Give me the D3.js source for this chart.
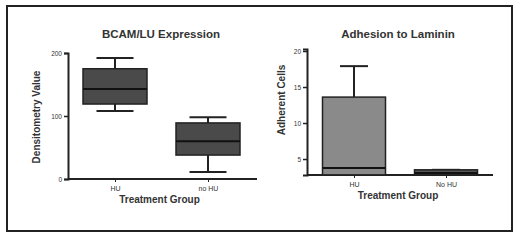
<!DOCTYPE html>
<html lang="en">
<head>
<meta charset="UTF-8">
<title>box plots</title>
<script src="https://d3js.org/d3.v7.min.js"></script>
<style>
    * { margin: 0; padding: 0; }
    body { background: #fff; }
    text { font-family: "Liberation Sans", Arial, sans-serif; fill: #333; }
</style>
</head>
<body>
<script>
    // left chart: BCAM/LU expression
    var groupsA = ["HU", "no HU"];
    var minA = [108, 11];
    var q1A = [119, 38];
    var medA = [143, 60];
    var q3A = [175, 89];
    var maxA = [192, 98];
    var ticksA = [0, 100, 200];

    // right chart: adhesion to laminin
    var groupsB = ["HU", "No HU"];
    var minB = [2.8, 2.8];
    var q1B = [2.8, 2.8];
    var medB = [3.75, 3.05];
    var q3B = [13.6, 3.5];
    var maxB = [17.9, 3.5];
    var ticksB = [5, 10, 15, 20];

    var svg = d3.select("body").append("svg")
        .attr("width", 520).attr("height", 241)

    // outer frame
    svg.append("rect")
        .attr("x", 7).attr("y", 6)
        .attr("width", 505).attr("height", 225)
        .attr("fill", "none").attr("stroke", "#222").attr("stroke-width", 2)

    function boxChart(opt) {
        var g = svg.append("g")
        var x = d3.scalePoint().domain(opt.groups).range(opt.xr).padding(0)
        var y = d3.scaleLinear().domain(opt.dom).range(opt.yr)

        var yAxis = d3.axisLeft(y).tickValues(opt.ticks).tickSize(4).tickPadding(2)
        var ya = g.append("g").attr("transform", "translate(" + opt.x0 + ",0)").call(yAxis)
        ya.select(".domain").attr("stroke", "#222").attr("stroke-width", 2)
        ya.selectAll(".tick line").attr("stroke", "#222").attr("stroke-width", 1.5)
        ya.selectAll(".tick text").attr("font-size", 6.5).attr("fill", "#666")

        var xAxis = d3.axisBottom(x).tickSize(3).tickPadding(4)
        var xa = g.append("g").attr("transform", "translate(0," + opt.yr[0] + ")").call(xAxis)
        xa.select(".domain").attr("d", "M" + opt.x0 + ",0H" + opt.xEnd)
            .attr("stroke", "#222").attr("stroke-width", 2)
        xa.selectAll(".tick line").attr("stroke", "#222")
        xa.selectAll(".tick text").attr("font-size", 7).attr("fill", "#555")

        var bw = opt.bw, cw = opt.cw
        opt.groups.forEach(function(gr, i) {
            var cx = x(gr)
            // whiskers
            g.append("line").attr("x1", cx).attr("x2", cx)
                .attr("y1", y(opt.max[i])).attr("y2", y(opt.q3[i]))
                .attr("stroke", "#222").attr("stroke-width", 2)
            g.append("line").attr("x1", cx).attr("x2", cx)
                .attr("y1", y(opt.min[i])).attr("y2", y(opt.q1[i]))
                .attr("stroke", "#222").attr("stroke-width", 2)
            g.append("line").attr("x1", cx - cw / 2).attr("x2", cx + cw / 2)
                .attr("y1", y(opt.max[i])).attr("y2", y(opt.max[i]))
                .attr("stroke", "#222").attr("stroke-width", 2)
            g.append("line").attr("x1", cx - cw / 2).attr("x2", cx + cw / 2)
                .attr("y1", y(opt.min[i])).attr("y2", y(opt.min[i]))
                .attr("stroke", "#222").attr("stroke-width", 2)
            // box
            g.append("rect")
                .attr("x", cx - bw / 2).attr("width", bw)
                .attr("y", y(opt.q3[i])).attr("height", Math.max(1, y(opt.q1[i]) - y(opt.q3[i])))
                .attr("fill", opt.fill[i]).attr("stroke", "#222").attr("stroke-width", 1.5)
            g.append("line").attr("x1", cx - bw / 2).attr("x2", cx + bw / 2)
                .attr("y1", y(opt.med[i])).attr("y2", y(opt.med[i]))
                .attr("stroke", "#111").attr("stroke-width", 2)
        })

        g.append("text").attr("x", opt.tx).attr("y", 38)
            .attr("text-anchor", "middle").attr("font-size", 11.5).attr("font-weight", "bold")
            .attr("fill", "#3a3a3a").text(opt.title)
        g.append("text").attr("x", (opt.xr[0] + opt.xr[1]) / 2 - 2).attr("y", opt.yr[0] + 24)
            .attr("text-anchor", "middle").attr("font-size", 10).attr("font-weight", "bold")
            .attr("fill", "#4a4a4a").text("Treatment Group")
        g.append("text")
            .attr("transform", "translate(" + opt.ylx + "," + opt.yly + ") rotate(-90)")
            .attr("text-anchor", "middle").attr("font-size", 10).attr("font-weight", "bold")
            .attr("fill", "#4a4a4a").text(opt.ylabel)
    }

    boxChart({
        groups: groupsA, min: minA, q1: q1A, med: medA, q3: q3A, max: maxA, ticks: ticksA,
        dom: [0, 200], yr: [179, 53], xr: [115, 208], x0: 68, xEnd: 257,
        bw: 64, cw: 37, fill: ["#4a4a4a", "#4a4a4a"],
        title: "BCAM/LU Expression", tx: 161,
        ylabel: "Densitometry Value", ylx: 40, yly: 117
    })

    boxChart({
        groups: groupsB, min: minB, q1: q1B, med: medB, q3: q3B, max: maxB, ticks: ticksB,
        dom: [2.78, 20.28], yr: [175, 49], xr: [354, 446], x0: 307, xEnd: 493,
        bw: 63, cw: 28, fill: ["#8a8a8a", "#555"],
        title: "Adhesion to Laminin", tx: 398,
        ylabel: "Adherent Cells", ylx: 285, yly: 100
    })
</script>
</body>
</html>
